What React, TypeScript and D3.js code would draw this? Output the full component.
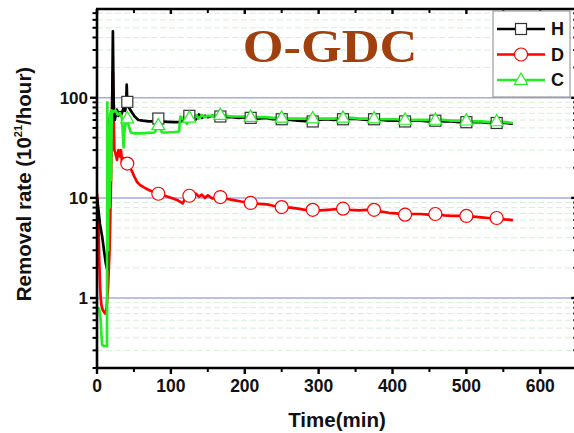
import React from 'react';
import * as d3 from 'd3';

const W = 574;
const H = 433;

const xTicks = [0, 100, 200, 300, 400, 500, 600];
const xMinorTicks = [50, 150, 250, 350, 450, 550, 650];
const yTicks = [1, 10, 100];
const yTickLabels = ['1', '10', '100'];
const yMinorTicks = [0.2, 0.3, 0.4, 0.5, 0.6, 0.7, 0.8, 0.9, 2, 3, 4, 5, 6, 7, 8, 9, 20, 30, 40, 50, 60, 70, 80, 90, 200, 300, 400, 500, 600, 700];

const markerTimes = [41, 83, 125, 167, 208, 250, 292, 333, 375, 417, 458, 500, 541];

const hTime = [0, 2, 4, 7, 10, 12, 14, 15, 17, 19, 20.5, 21.5, 22.5, 24, 27, 29, 31, 33, 36, 38, 39.5, 40.2, 41, 43, 45, 48, 51, 56, 62, 70, 77, 83, 88, 95, 105, 112, 116, 119, 122, 125, 128, 131, 134, 138, 142, 146, 150, 156, 162, 167, 175, 183, 192, 200, 208, 218, 228, 238, 250, 262, 272, 282, 292, 300, 310, 320, 333, 345, 355, 365, 375, 385, 395, 405, 417, 428, 438, 448, 458, 470, 480, 490, 500, 510, 520, 530, 541, 552, 563];
const hValue = [10, 7.5, 5.5, 4.1, 2.8, 2.2, 1.9, 40, 62, 68, 75, 460, 90, 60, 76, 66, 72, 68, 79, 74, 85, 135, 91, 80, 76, 70, 65, 60, 59, 58, 58, 62, 58, 57.5, 57, 57, 60, 66, 64, 66, 62, 67, 61, 68, 63, 66, 64, 66, 65, 65, 64, 64, 63, 64, 63, 62, 63, 61, 61, 60, 59, 58.5, 58, 60, 61, 60, 61, 62, 61, 60, 61, 60, 59, 59, 58, 59, 59, 58, 59, 58, 58, 57, 57, 57, 57, 56, 56, 56, 55];

const dTime = [0, 1, 2, 3, 4, 5, 6, 8, 11, 13, 15, 17, 19, 20.5, 21.5, 22.5, 23.5, 25, 27, 29, 31, 32.5, 34, 36, 38, 40, 41, 43, 45, 48, 51, 54, 58, 63, 70, 76, 83, 90, 97, 104, 110, 116, 120, 125, 130, 134, 138, 142, 146, 150, 156, 162, 167, 175, 185, 195, 208, 220, 230, 240, 250, 262, 272, 282, 292, 302, 312, 322, 333, 343, 355, 365, 375, 385, 395, 405, 417, 428, 438, 448, 458, 470, 480, 490, 500, 510, 520, 530, 541, 552, 563];
const dValue = [11, 9, 5, 2.5, 1.4, 1.0, 0.85, 0.75, 0.7, 0.8, 1.3, 3, 15, 90, 180, 70, 30, 28, 24, 30, 26, 30, 22, 25, 21, 24, 22, 21, 20, 18, 16, 14.5, 13.5, 12.8, 12, 11.5, 11, 10.6, 10.2, 9.8, 9.4, 8.8, 10.2, 10.5, 10.2, 11, 10.3, 10.8, 10, 10.6, 9.9, 10.1, 10.2, 9.8, 9.5, 9.2, 8.9, 8.7, 8.6, 8.3, 8.1, 8, 7.8, 7.6, 7.6, 7.5, 7.6, 7.7, 7.8, 7.6, 7.5, 7.6, 7.6, 7.3, 7.1, 7.0, 6.8, 6.9, 6.9, 6.8, 6.9, 6.7, 6.6, 6.6, 6.6, 6.5, 6.4, 6.3, 6.3, 6.1, 6.0];

const cTime = [0, 3, 5, 6, 7, 10, 13.5, 14, 15, 16, 17, 18, 19, 20, 22, 25, 28, 31, 34, 36, 37, 39, 41, 43, 46, 50, 60, 70, 78, 81, 83, 85, 88, 95, 105, 111, 113, 116, 119, 122, 125, 128, 131, 134, 138, 142, 146, 150, 156, 162, 167, 175, 183, 192, 200, 208, 218, 228, 238, 250, 262, 272, 282, 292, 300, 310, 320, 333, 345, 355, 365, 375, 385, 395, 405, 417, 428, 438, 448, 458, 470, 480, 490, 500, 510, 520, 530, 541, 552, 563];
const cValue = [0.8, 0.78, 0.6, 0.42, 0.34, 0.33, 0.33, 90, 3, 50, 8, 70, 15, 75, 72, 75, 68, 70, 62, 32, 45, 58, 62, 52, 45, 44, 44, 44.5, 45, 50, 53, 50, 45, 45, 45.5, 46, 65, 62, 58, 55, 63, 66, 60, 67, 62, 67, 64, 66, 66, 67, 67, 66, 65, 65, 65, 64, 64, 64, 63, 63, 62, 62, 62, 62, 62, 62, 62, 63, 63, 62, 62, 62, 61, 61, 61, 60, 60, 60, 60, 60, 60, 59, 59, 59, 58, 58, 57, 58, 57, 56];

const seriesNames = ['H', 'D', 'C'];

const x = d3.scaleLinear().domain([0, 650]).range([97, 577.2]);
const y = d3.scaleLog().domain([0.2, 770]).range([368, 9]);

const PL = 97, PR = 577.2, PT = 9, PB = 368;
const FONT = '"Liberation Sans", Arial, sans-serif';

function Marker({ kind, cx, cy, color }: { kind: string; cx: number; cy: number; color: string }) {
  if (kind === 'square') {
    const s = 11;
    return <rect x={cx - s / 2} y={cy - s / 2} width={s} height={s} fill="#fff" stroke="#333" strokeWidth={1.2} />;
  }
  if (kind === 'circle') {
    return <circle cx={cx} cy={cy} r={6.5} fill="#fff" stroke={color} strokeWidth={1.2} />;
  }
  const s = 13;
  const h = s * 0.87;
  const pts = `${cx},${cy - h * 0.62} ${cx - s / 2},${cy + h * 0.38} ${cx + s / 2},${cy + h * 0.38}`;
  return <polygon points={pts} fill="#fff" stroke={color} strokeWidth={1.2} />;
}

export default function App() {
  const series = [
    { name: seriesNames[0], t: hTime, v: hValue, color: '#000000', marker: 'square' },
    { name: seriesNames[1], t: dTime, v: dValue, color: '#ff0000', marker: 'circle' },
    { name: seriesNames[2], t: cTime, v: cValue, color: '#22ee22', marker: 'triangle' },
  ];
  const line = d3
    .line<[number, number]>()
    .x((d) => x(d[0]))
    .y((d) => y(d[1]));

  const drawOrder = [1, 0, 2];

  return (
    <svg width={W} height={H} style={{ position: 'absolute', left: 0, top: 0, background: '#fff' }}>
      <defs>
        <clipPath id="plot">
          <rect x={PL} y={PT} width={PR - PL} height={PB - PT} />
        </clipPath>
      </defs>
      <rect x={0} y={0} width={W} height={H} fill="#fff" />
      {yMinorTicks.map((v) => (
        <line key={'mg' + v} x1={PL} x2={PR} y1={y(v)} y2={y(v)} stroke="#d6efd6" strokeWidth={1} strokeDasharray="6,3" />
      ))}
      {yTicks.map((v) => (
        <line key={'g' + v} x1={PL} x2={PR} y1={y(v)} y2={y(v)} stroke="#a8a8e6" strokeWidth={1.5} />
      ))}
      <g transform="translate(330,62) scale(1.14,1)">
        <text x={0} y={0} textAnchor="middle" fontFamily='"Liberation Serif", "Times New Roman", serif' fontWeight="bold" fontSize={46} fill="#a0400e">
          O-GDC
        </text>
      </g>
      <g clipPath="url(#plot)">
        {drawOrder.map((i) => {
          const s = series[i];
          const pts = s.t.map((t, k) => [t, s.v[k]] as [number, number]);
          return <path key={s.name} d={line(pts) || ''} fill="none" stroke={s.color} strokeWidth={2.7} strokeLinejoin="round" />;
        })}
        {drawOrder.map((i) => {
          const s = series[i];
          return (
            <g key={'m' + s.name}>
              {s.t.map((t, k) =>
                markerTimes.includes(t) ? <Marker key={k} kind={s.marker} cx={x(t)} cy={y(s.v[k])} color={s.color} /> : null
              )}
            </g>
          );
        })}
      </g>
      <line x1={PL} x2={PL} y1={PT} y2={PB + 1} stroke="#000" strokeWidth={2.6} />
      <line x1={PL - 1} x2={PR} y1={PB} y2={PB} stroke="#000" strokeWidth={2.6} />
      <line x1={PL - 1} x2={PR} y1={PT} y2={PT} stroke="#000" strokeWidth={2.6} />
      <line x1={PR} x2={PR} y1={PT} y2={PB} stroke="#000" strokeWidth={2.6} />
      {xTicks.map((t) => (
        <g key={'xt' + t}>
          <line x1={x(t)} x2={x(t)} y1={PB} y2={PB + 6} stroke="#000" strokeWidth={2.4} />
          <line x1={x(t)} x2={x(t)} y1={PT} y2={PT + 5} stroke="#000" strokeWidth={2.4} />
          <text x={x(t)} y={PB + 24} textAnchor="middle" fontFamily={FONT} fontWeight="bold" fontSize={17.5} fill="#111">
            {t}
          </text>
        </g>
      ))}
      {xMinorTicks.map((t) => (
        <g key={'xm' + t}>
          <line x1={x(t)} x2={x(t)} y1={PB} y2={PB + 4} stroke="#000" strokeWidth={2} />
          <line x1={x(t)} x2={x(t)} y1={PT} y2={PT + 4} stroke="#000" strokeWidth={2} />
        </g>
      ))}
      {yTicks.map((v, i) => (
        <g key={'yt' + v}>
          <line x1={PL - 7} x2={PL} y1={y(v)} y2={y(v)} stroke="#000" strokeWidth={2.4} />
          <line x1={PR - 6} x2={PR} y1={y(v)} y2={y(v)} stroke="#000" strokeWidth={2.4} />
          <text x={PL - 9} y={y(v)} dy="0.36em" textAnchor="end" fontFamily={FONT} fontWeight="bold" fontSize={17} fill="#111">
            {yTickLabels[i]}
          </text>
        </g>
      ))}
      {yMinorTicks.map((v) => (
        <g key={'ym' + v}>
          <line x1={PL - 4.5} x2={PL} y1={y(v)} y2={y(v)} stroke="#000" strokeWidth={2} />
          <line x1={PR - 4} x2={PR} y1={y(v)} y2={y(v)} stroke="#000" strokeWidth={2} />
        </g>
      ))}
      <text x={337} y={427} textAnchor="middle" fontFamily={FONT} fontWeight="bold" fontSize={20.5} fill="#111">
        Time(min)
      </text>
      <text transform="translate(31,184) rotate(-90)" textAnchor="middle" fontFamily={FONT} fontWeight="bold" fontSize={20.5} fill="#111">
        Removal rate (10<tspan fontSize={11} dy={-9}>21</tspan>
        <tspan dy={9}>/hour)</tspan>
      </text>
      <rect x={493} y={11} width={77} height={86} fill="#fff" stroke="#888" strokeWidth={1} />
      {series.map((s, i) => {
        const ly = 29 + i * 25.5;
        return (
          <g key={'lg' + s.name}>
            <line x1={497} x2={545} y1={ly} y2={ly} stroke={s.color} strokeWidth={2.6} />
            <Marker kind={s.marker} cx={521} cy={ly} color={s.color} />
            <text x={551} y={ly} dy="0.36em" fontFamily={FONT} fontWeight="bold" fontSize={18} fill="#111">
              {s.name}
            </text>
          </g>
        );
      })}
    </svg>
  );
}
